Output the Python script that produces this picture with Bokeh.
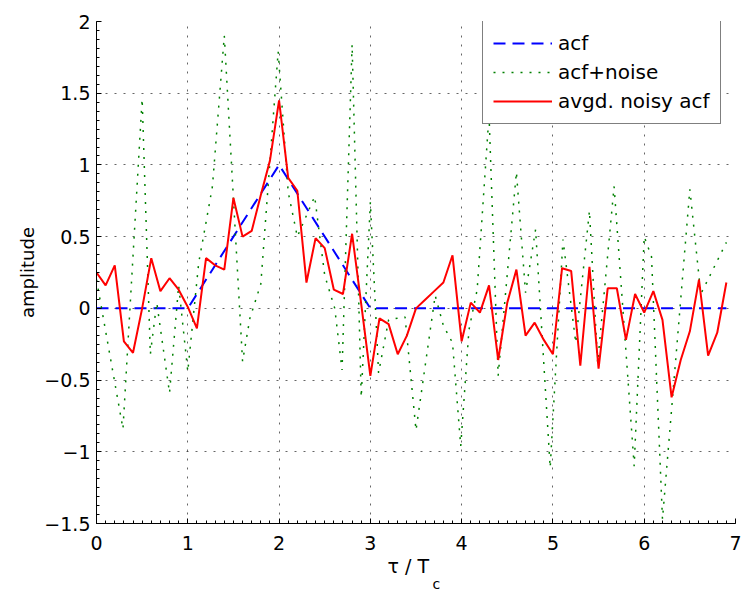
from bokeh.plotting import figure
from bokeh.models import Range1d, SingleIntervalTicker, Legend, LegendItem, Title
from bokeh.embed import file_html
from bokeh.resources import INLINE

# ---- data ----
tau = [0.0, 0.1, 0.2, 0.3, 0.4, 0.5, 0.6, 0.7, 0.8, 0.9,
       1.0, 1.1, 1.2, 1.3, 1.4, 1.5, 1.6, 1.7, 1.8, 1.9,
       2.0, 2.1, 2.2, 2.3, 2.4, 2.5, 2.6, 2.7, 2.8, 2.9,
       3.0, 3.1, 3.2, 3.3, 3.4, 3.5, 3.6, 3.7, 3.8, 3.9,
       4.0, 4.1, 4.2, 4.3, 4.4, 4.5, 4.6, 4.7, 4.8, 4.9,
       5.0, 5.1, 5.2, 5.3, 5.4, 5.5, 5.6, 5.7, 5.8, 5.9,
       6.0, 6.1, 6.2, 6.3, 6.4, 6.5, 6.6, 6.7, 6.8, 6.9]

avg_noisy_acf = [0.25, 0.16, 0.30, -0.23, -0.31, 0.00, 0.35, 0.12, 0.21, 0.13,
                 0.01, -0.14, 0.35, 0.30, 0.27, 0.77, 0.50, 0.54, 0.79, 1.03,
                 1.45, 0.91, 0.82, 0.18, 0.49, 0.42, 0.13, 0.10, 0.52, 0.03,
                 -0.47, -0.07, -0.11, -0.32, -0.19, 0.00, 0.06, 0.12, 0.18, 0.37,
                 -0.23, 0.04, -0.03, 0.16, -0.36, 0.04, 0.27, -0.19, -0.10, -0.22,
                 -0.32, 0.28, 0.26, -0.40, 0.29, -0.42, 0.14, 0.14, -0.22, 0.10,
                 -0.03, 0.12, -0.08, -0.62, -0.36, -0.16, 0.20, -0.33, -0.17, 0.18]

acf_x = [0.0, 1.0, 2.0, 3.0, 6.9]
acf_y = [0.0, 0.0, 1.0, 0.0, 0.0]

noise_x = [0.00, 0.29, 0.50, 0.59, 0.66, 0.80, 0.90, 1.00, 1.12, 1.20, 1.27, 1.40,
           1.60, 1.68, 1.80, 1.99, 2.10, 2.20, 2.39, 2.50, 2.61, 2.69, 2.80, 2.90,
           3.00, 3.09, 3.20, 3.38, 3.50, 3.71, 3.80, 3.90, 3.99, 4.08, 4.17, 4.30,
           4.40, 4.60, 4.70, 4.81, 4.97, 5.11, 5.25, 5.40, 5.49, 5.67, 5.89, 6.00,
           6.08, 6.20, 6.50, 6.62, 6.90]
noise_y = [0.20, -0.84, 1.46, -0.32, 0.04, -0.59, 0.16, -0.44, 0.32, 0.60, 0.85, 1.90,
           -0.37, -0.07, 0.17, 1.79, 0.81, 0.50, 0.78, 0.23, 0.00, -0.43, 1.84, -0.62,
           0.74, -0.45, -0.08, -0.06, -0.85, 0.09, -0.12, -0.24, -0.96, -0.15, 0.13, 1.35,
           -0.47, 0.95, 0.11, 0.55, -1.11, 0.48, -0.24, 0.68, -0.38, 0.85, -1.10, 0.50,
           0.36, -1.47, 0.83, 0.10, 0.46]

y_ticks = [-1.5, -1.0, -0.5, 0.0, 0.5, 1.0, 1.5, 2.0]
y_tick_labels = ["\u22121.5", "\u22121", "\u22120.5", "0", "0.5", "1", "1.5", "2"]
legend_labels = ["acf", "acf+noise", "avgd. noisy acf"]

FONT = "DejaVu Sans"

p = figure(width=741, height=590, output_backend="svg", toolbar_location=None,
           x_range=Range1d(0, 7), y_range=Range1d(-1.5, 2),
           min_border_left=96, min_border_right=6, min_border_top=21,
           min_border_bottom=67)
p.outline_line_color = None
p.background_fill_color = "white"
p.border_fill_color = "white"

xt = SingleIntervalTicker(interval=1, num_minor_ticks=10)
yt = SingleIntervalTicker(interval=0.5, num_minor_ticks=8)
p.xaxis.ticker = xt
p.yaxis.ticker = yt
p.xgrid.ticker = xt
p.ygrid.ticker = yt

for ax in (p.xaxis[0], p.yaxis[0]):
    ax.axis_line_color = "black"
    ax.axis_line_width = 1
    ax.major_tick_in = 5
    ax.major_tick_out = 0
    ax.minor_tick_in = 3
    ax.minor_tick_out = 0
    ax.major_tick_line_color = "black"
    ax.minor_tick_line_color = "black"
    ax.major_label_text_font = FONT
    ax.major_label_text_font_size = "19px"
    ax.major_label_text_color = "black"

p.xaxis.major_label_standoff = 12
p.yaxis.major_label_standoff = 6
p.yaxis.major_label_overrides = {v: s for v, s in zip(y_ticks, y_tick_labels)}
p.yaxis.axis_label = "amplitude"
p.yaxis.axis_label_text_font = FONT
p.yaxis.axis_label_text_font_size = "18px"
p.yaxis.axis_label_text_font_style = "normal"
p.yaxis.axis_label_text_color = "black"
p.yaxis.axis_label_standoff = 3

for g in (p.xgrid[0], p.ygrid[0]):
    g.grid_line_color = "black"
    g.grid_line_alpha = 0.6
    g.grid_line_dash = "2 7"
    g.grid_line_width = 1

r_acf = p.line(acf_x, acf_y, line_color="#0000ff", line_width=2, line_dash="12 7")
r_noise = p.line(noise_x, noise_y, line_color="#008000", line_width=1.5, line_dash="2 7")
r_avg = p.line(tau, avg_noisy_acf, line_color="#ff0000", line_width=2)

legend = Legend(items=[LegendItem(label=legend_labels[0], renderers=[r_acf]),
                       LegendItem(label=legend_labels[1], renderers=[r_noise]),
                       LegendItem(label=legend_labels[2], renderers=[r_avg])],
                location=(386, 399), margin=0, padding=10, spacing=5,
                glyph_width=59, glyph_height=20, label_height=20, label_standoff=6,
                label_text_font=FONT, label_text_font_size="20px",
                label_text_color="black",
                border_line_color="black", border_line_width=1,
                background_fill_color="white", background_fill_alpha=1.0)
p.add_layout(legend)

t1 = Title(text="\u03c4 / T", align="left", offset=291, standoff=0,
           text_font=FONT, text_font_size="19px", text_font_style="normal",
           text_color="black")
t2 = Title(text="c", align="left", offset=336, standoff=-6,
           text_font=FONT, text_font_size="14px", text_font_style="normal",
           text_color="black")
p.add_layout(t1, "below")
p.add_layout(t2, "below")

open("out.html", "w").write(file_html(p, INLINE))
